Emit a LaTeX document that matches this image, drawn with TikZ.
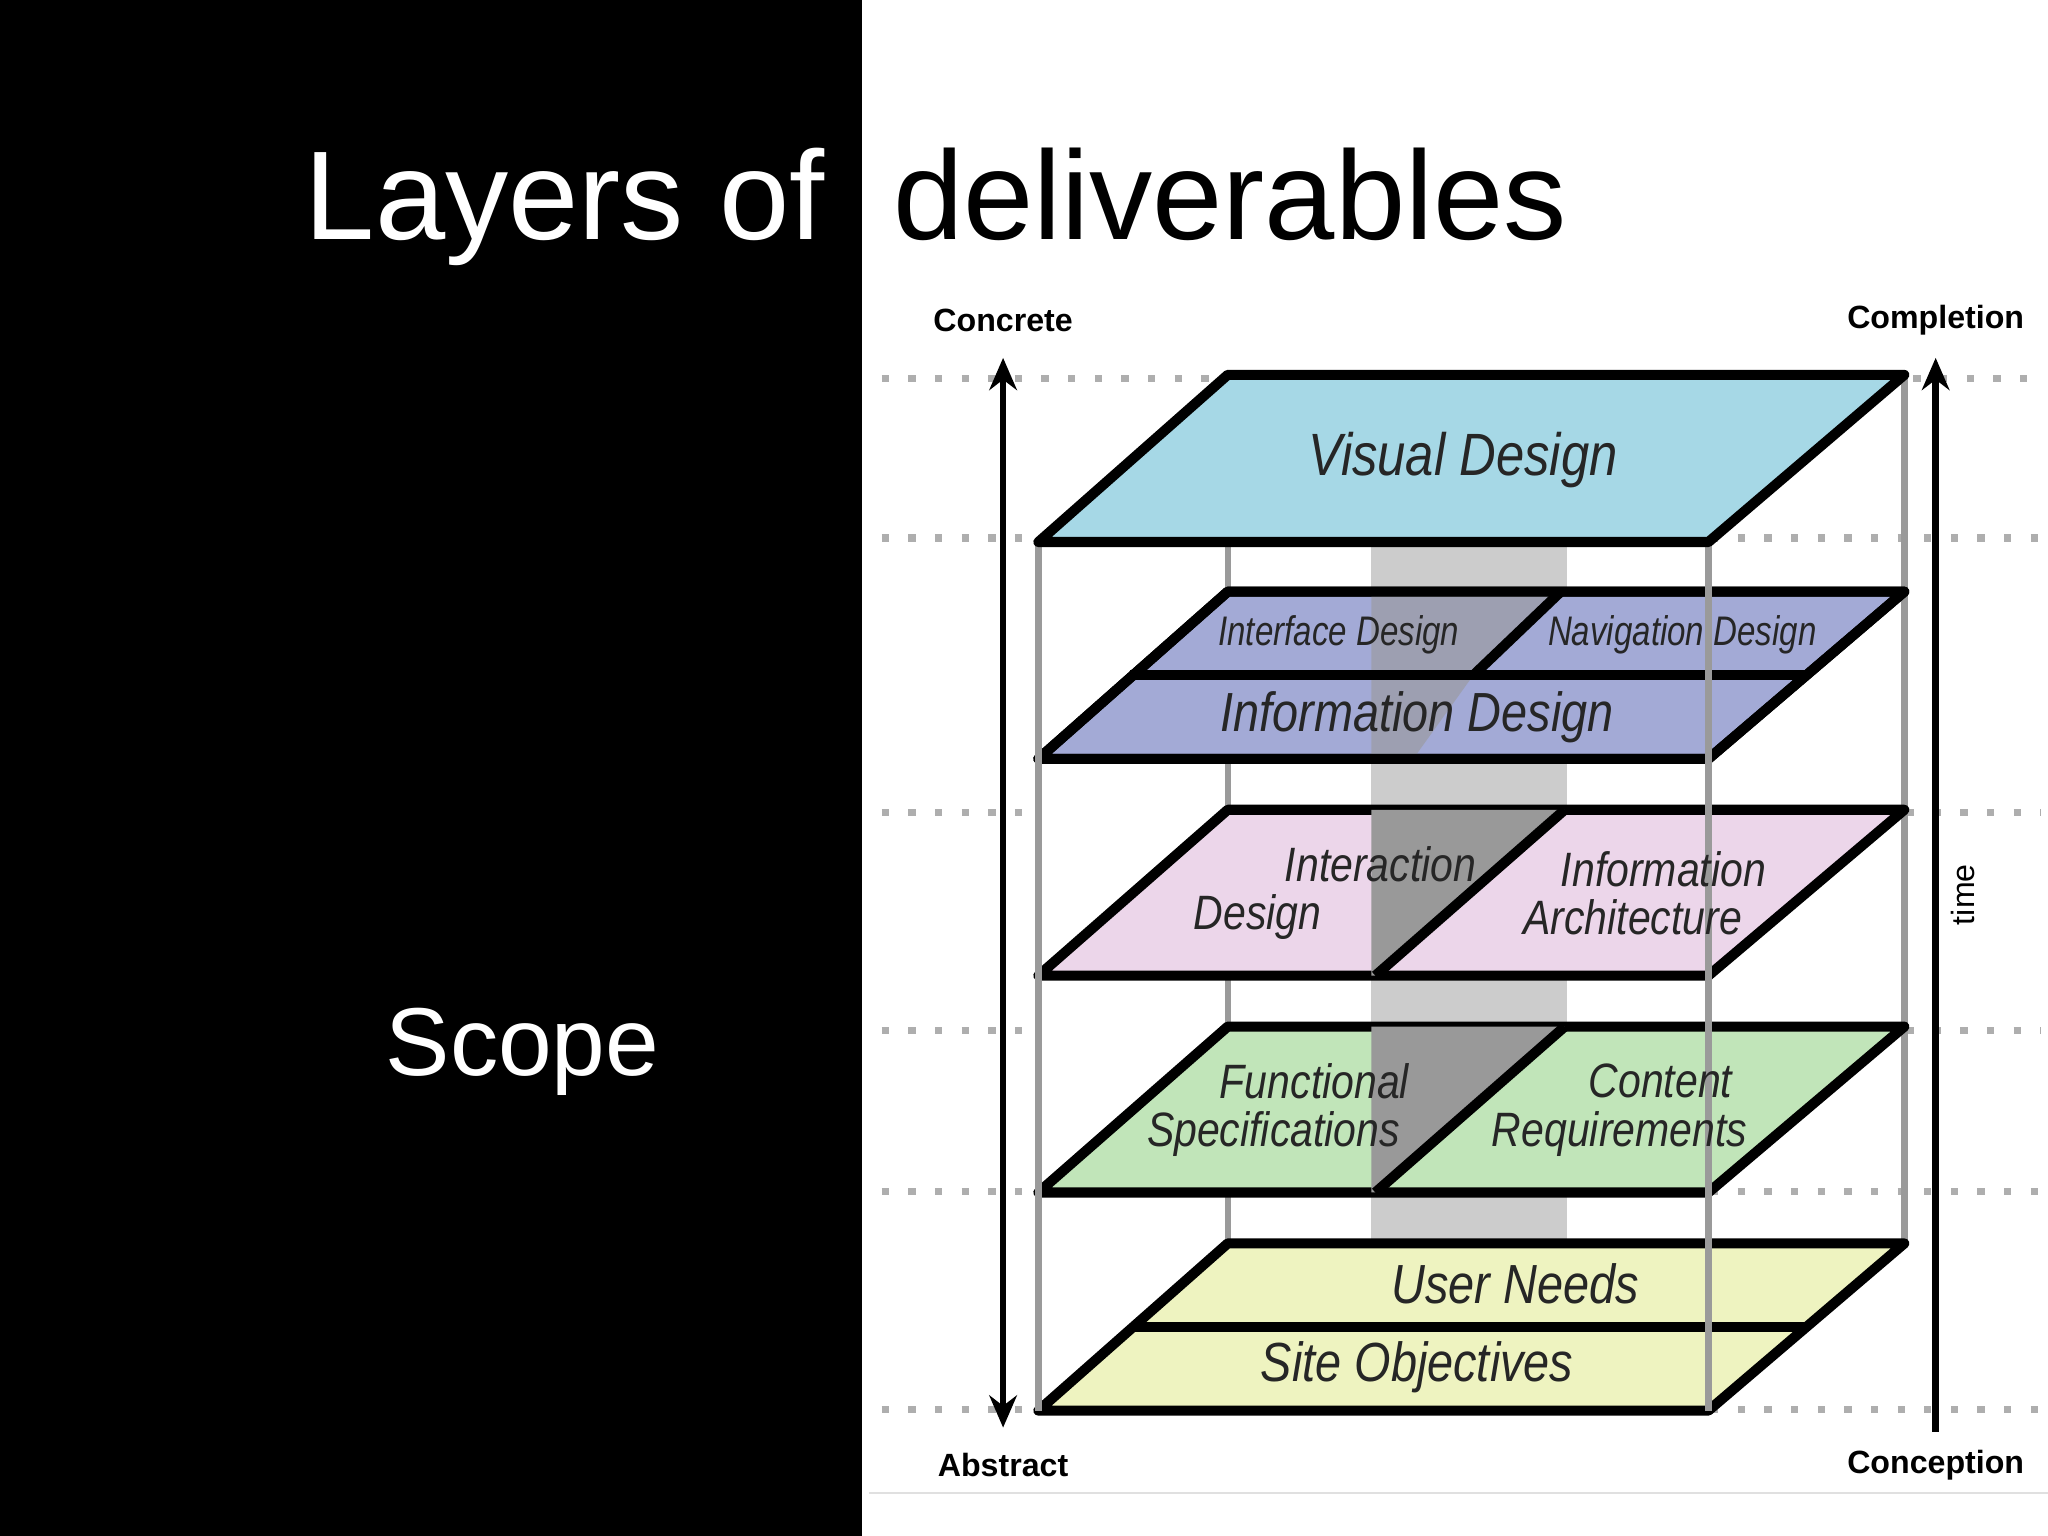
\documentclass[tikz,border=0pt]{standalone}
\usepackage{fontspec}
\setmainfont{Liberation Sans}
\usetikzlibrary{arrows.meta}
\definecolor{vblue}{HTML}{A6D8E6}
\definecolor{iblue}{HTML}{A3AAD6}
\definecolor{pink}{HTML}{ECD6EA}
\definecolor{green}{HTML}{C1E5B9}
\definecolor{yell}{HTML}{EEF3C0}
\definecolor{post}{HTML}{9A9A9A}
\tikzset{
 layer/.style={draw=black,line width=2.2pt,line join=round},
 lt/.style={font=\itshape\fontsize{#1}{#1}\selectfont,text=black!85,inner sep=0pt},
 lab/.style={font=\bfseries\fontsize{7pt}{8pt}\selectfont,inner sep=0pt},
 dots/.style={post!80,line width=1.6pt,dash pattern=on 1.6pt off 4.2pt},
 postl/.style={post,line width=1.4pt},
}
\begin{document}
\begin{tikzpicture}[x=0.01cm,y=-0.01cm]
\useasboundingbox (0,0) rectangle (1568,1176);
\fill[black] (0,0) rectangle (660,1176);
\draw[black!12,line width=0.5pt] (665,1143) -- (1568,1143);
% title
\node[anchor=base east,text=white,font=\fontsize{27.5pt}{30pt}\selectfont,inner sep=0pt] (t1) at (632,183) {Layers of};
\node[anchor=base west,text=black,font=\fontsize{27.5pt}{30pt}\selectfont,inner sep=0pt] (t2) at (683,183) {deliverables};
\node[text=white,font=\fontsize{21pt}{24pt}\selectfont] (scope) at (400,805) {Scope};
% dotted guides
\foreach \y/\a/\b in {290/940/1465,412/790/1310,622/790/1460,789/790/1460,912/790/1310,1079/790/1310}{
 \draw[dots] (675,\y) -- (\a,\y);
 \draw[dots] (\b,\y) -- (1562,\y);
}
% back posts
\draw[postl] (940,287) -- (940,952);
\draw[postl] (1458,287) -- (1458,952);
% light band
\fill[black!20] (1050,415) rectangle (1200,953);
% layers
\filldraw[layer,fill=yell] (795,1080) -- (1308,1080) -- (1458,952) -- (940,952) -- cycle;
\draw[layer] (868,1016) -- (1383,1016);
\filldraw[layer,fill=green] (795,913) -- (1308,913) -- (1458,786) -- (940,786) -- cycle;
\fill[black!40] (1050,786) -- (1198,786) -- (1053,913) -- (1050,913) -- cycle;
\draw[layer] (1198,786) -- (1053,913);
\filldraw[layer,fill=pink] (795,747) -- (1308,747) -- (1458,620) -- (940,620) -- cycle;
\fill[black!40] (1050,620) -- (1198,620) -- (1053,747) -- (1050,747) -- cycle;
\draw[layer] (1198,620) -- (1053,747);
\filldraw[layer,fill=iblue] (795,581) -- (1308,581) -- (1458,453) -- (940,453) -- cycle;
\fill[black!40,opacity=0.6] (1050,453) -- (1195,453) -- (1128,517) -- (1050,517) -- cycle;
\fill[black!40,opacity=0.6] (1050,517) -- (1128,517) -- (1082,581) -- (1050,581) -- cycle;
\draw[layer] (795,581) -- (1308,581) -- (1458,453) -- (940,453) -- cycle;
\draw[layer] (865,517) -- (1383,517);
\draw[layer] (1195,453) -- (1128,517);
% front posts
\draw[postl] (795,415) -- (795,1080);
\draw[postl] (1308,415) -- (1308,1080);
\filldraw[layer,fill=vblue] (795,415) -- (1308,415) -- (1458,287) -- (940,287) -- cycle;
% texts
\node[lt=13pt,xscale=0.85] (vd) at (1120,352) {Visual Design};
\node[lt=9pt,xscale=0.8] (ifd) at (1025,486) {Interface Design};
\node[lt=9pt,xscale=0.8] (nd) at (1288,486) {Navigation Design};
\node[lt=12pt,xscale=0.85] (ind) at (1085,549) {Information Design};
\node[lt=10.5pt,xscale=0.85,align=center] (ixd) at (1010,684) {\hspace*{3em}Interaction\\Design\hspace*{3em}};
\node[lt=10.5pt,xscale=0.85,align=center] (ia) at (1250,684) {\hspace*{1.5em}Information\\Architecture};
\node[lt=10.5pt,xscale=0.85,align=center] (fs) at (975,850) {\hspace*{2em}Functional\\Specifications};
\node[lt=10.5pt,xscale=0.85,align=center] (cr) at (1240,850) {\hspace*{2em}Content\\Requirements};
\node[lt=12pt,xscale=0.85] (un) at (1160,983) {User Needs};
\node[lt=12pt,xscale=0.85] (so) at (1085,1047) {Site Objectives};
% axes
\coordinate (ltop) at (768,274);
\coordinate (lbot) at (768,1093);
\coordinate (rtop) at (1482,274);
\coordinate (rbot) at (1482,1096);
\draw[line width=1.4pt,{Stealth[length=7pt,width=6pt]}-{Stealth[length=7pt,width=6pt]}] (ltop) -- (lbot);
\draw[line width=1.4pt,-{Stealth[length=7pt,width=6pt]}] (rbot) -- (rtop);
\node[lab] (conc) at (768,245) {Concrete};
\node[lab] (compl) at (1482,245) {Completion};
\node[lab] (abs) at (768,1122) {Abstract};
\node[lab] (conp) at (1482,1122) {Conception};
\node[font=\fontsize{7pt}{8pt}\selectfont,rotate=90,inner sep=0pt] (time) at (1503,685) {time};
\end{tikzpicture}
\end{document}
